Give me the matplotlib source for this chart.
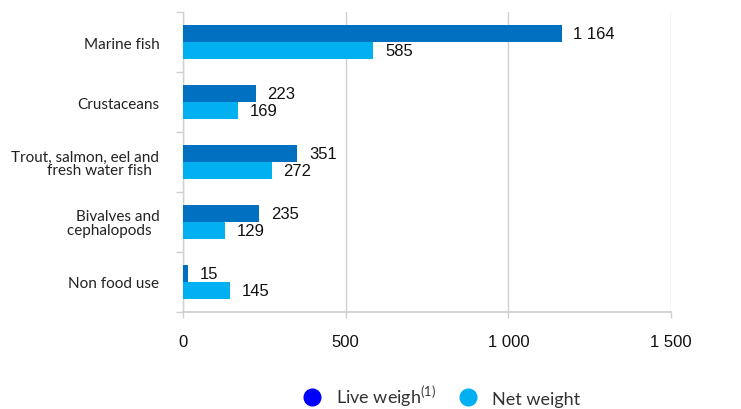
import matplotlib.pyplot as plt
import numpy as np
from matplotlib.lines import Line2D

categories = ['Marine fish', 'Crustaceans', 'Trout, salmon, eel and\nfresh water fish  ',
              'Bivalves and\ncephalopods  ', 'Non food use']
live = [1164, 223, 351, 235, 15]
net = [585, 169, 272, 129, 145]
live_lbl = ['1 164', '223', '351', '235', '15']
net_lbl = ['585', '169', '272', '129', '145']
xticks = [0, 500, 1000, 1500]
xtick_lbl = ['0', '500', '1 000', '1 500']

c_live = '#0070C0'
c_net = '#00B0F0'
grey = '#D0D0D0'

fig = plt.figure(figsize=(7.41, 4.10), dpi=100)
ax = fig.add_axes([0.247, 0.237, 0.6585, 0.731])

y = np.arange(len(categories))
h = 0.285
ax.barh(y - h / 2, live, height=h, color=c_live, zorder=3)
ax.barh(y + h / 2, net, height=h, color=c_net, zorder=3)

for i in range(len(categories)):
    ax.text(live[i] + 36, y[i] - h / 2, live_lbl[i], va='center', ha='left',
            fontsize=12, family='Liberation Sans', color='#111111')
    ax.text(net[i] + 36, y[i] + h / 2, net_lbl[i], va='center', ha='left',
            fontsize=12, family='Liberation Sans', color='#111111')

ax.set_ylim(len(categories) - 0.5, -0.5)
ax.set_xlim(0, 1500)
ax.set_yticks(y)
ax.set_yticklabels(categories, fontsize=11, family='Lato', color='#222222',
                   linespacing=0.95)
ax.set_yticks(np.arange(len(categories) + 1) - 0.5, minor=True)
ax.tick_params(axis='y', which='major', length=0, pad=17)
ax.tick_params(axis='y', which='minor', length=5, color=grey, width=1)
ax.set_xticks(xticks)
ax.set_xticklabels(xtick_lbl, fontsize=12, family='Liberation Sans', color='#111111')
ax.tick_params(axis='x', length=4, color=grey, width=1, pad=12)

ax.grid(axis='x', color=grey, linewidth=1, zorder=0)
for s in ['top', 'right']:
    ax.spines[s].set_visible(False)
ax.spines['left'].set_color(grey)
ax.spines['bottom'].set_color(grey)
ax.spines['left'].set_linewidth(1)
ax.spines['bottom'].set_linewidth(1.3)

handles = [Line2D([], [], marker='o', linestyle='', color='#0000FF', markersize=12),
           Line2D([], [], marker='o', linestyle='', color=c_net, markersize=12)]
fig.legend(handles, [r'Live weigh$^{\mathregular{(1)}}$', 'Net weight'], loc='center',
           bbox_to_anchor=(0.59, 0.03), ncol=2, frameon=False,
           prop={'family': 'Lato', 'size': 13}, handletextpad=0.3,
           columnspacing=0.8, labelcolor='#333333')

fig.savefig('out.png', dpi=100)
